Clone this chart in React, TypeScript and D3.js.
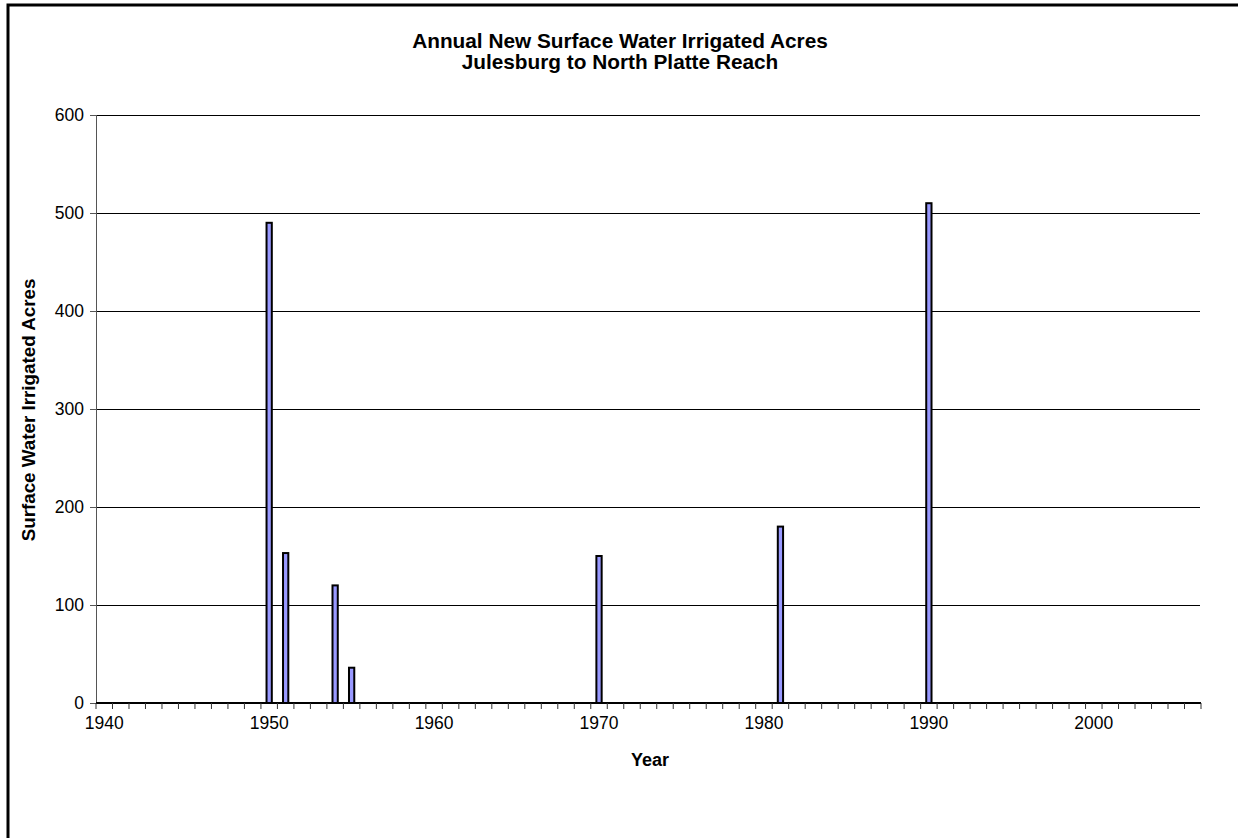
import React from "react";
import * as d3 from "d3";

const years: number[] = d3.range(1940, 2007);
const barYears: number[] = [1950, 1951, 1954, 1955, 1970, 1981, 1990];
const barValues: number[] = [490, 153, 120, 36, 150, 180, 510];
const yTicks: number[] = [0, 100, 200, 300, 400, 500, 600];
const xTickLabels: number[] = [1940, 1950, 1960, 1970, 1980, 1990, 2000];
const titleLines: string[] = [
  "Annual New Surface Water Irrigated Acres",
  "Julesburg to North Platte Reach",
];
const xTitle = "Year";
const yTitle = "Surface Water Irrigated Acres";

const W = 1238;
const H = 838;
const left = 96;
const right = 1201;
const top = 115;
const bottom = 703;
const font = "Liberation Sans, Arial, Helvetica, sans-serif";

export default function App() {
  const x = d3.scaleBand<number>().domain(years).range([left, right]).padding(0);
  const y = d3.scaleLinear().domain([0, 600]).range([bottom, top]);
  const bw = x.bandwidth() * 0.32;
  const data = barYears.map((yr, i) => ({ yr, v: barValues[i] }));

  return (
    <svg
      width={W}
      height={H}
      style={{ position: "absolute", left: 0, top: 0, background: "#fff" }}
      fontFamily={font}
    >
      <rect x={0} y={0} width={W} height={H} fill="#fff" />
      <rect x={8} y={5} width={1400} height={1000} fill="none" stroke="#000" strokeWidth={3} />

      {titleLines.map((t, i) => (
        <text key={t} x={620} y={48 + i * 21} textAnchor="middle" fontSize={20.8} fontWeight="bold" fill="#000">
          {t}
        </text>
      ))}

      {/* gridlines */}
      {yTicks.filter((t) => t > 0).map((t) => (
        <line key={t} x1={left} x2={1200} y1={Math.round(y(t)) + 0.5} y2={Math.round(y(t)) + 0.5} stroke="#000" strokeWidth={1} />
      ))}

      {/* y axis */}
      <line x1={left + 0.5} x2={left + 0.5} y1={y(600)} y2={bottom} stroke="#555" strokeWidth={1} />
      {yTicks.map((t) => (
        <g key={t}>
          <line x1={left - 6} x2={left} y1={Math.round(y(t)) + 0.5} y2={Math.round(y(t)) + 0.5} stroke="#555" />
          <text x={84} y={y(t)} dy="0.36em" textAnchor="end" fontSize={17.5} fill="#000">
            {t}
          </text>
        </g>
      ))}

      {/* bars */}
      {data.map((d) => (
        <rect
          key={d.yr}
          x={(x(d.yr) as number) + (x.bandwidth() - bw) / 2}
          y={y(d.v)}
          width={bw}
          height={bottom - y(d.v)}
          fill="#9999FF"
          stroke="#000"
          strokeWidth={2}
        />
      ))}

      {/* x axis */}
      <line x1={left} x2={right} y1={bottom} y2={bottom} stroke="#000" strokeWidth={1.8} />
      {years.concat([2007]).map((yr, i) => {
        const px = left + i * x.step();
        return <line key={yr} x1={px} x2={px} y1={bottom} y2={bottom + 6} stroke="#333" strokeWidth={1} />;
      })}
      {xTickLabels.map((t) => (
        <text key={t} x={(x(t) as number) + x.bandwidth() / 2} y={729} textAnchor="middle" fontSize={17.5} fill="#000">
          {t}
        </text>
      ))}

      <text x={650} y={766} textAnchor="middle" fontSize={18} fontWeight="bold" fill="#000">
        {xTitle}
      </text>
      <text
        transform={`translate(35, ${410}) rotate(-90)`}
        textAnchor="middle"
        fontSize={18.8}
        fontWeight="bold"
        fill="#000"
      >
        {yTitle}
      </text>
    </svg>
  );
}
